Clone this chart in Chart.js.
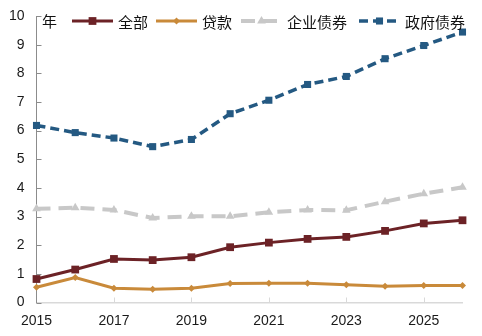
<!DOCTYPE html>
<html>
<head>
<meta charset="utf-8">
<script src="https://cdn.jsdelivr.net/npm/chart.js@4.4.0/dist/chart.umd.min.js"></script>
<style>
  html, body { margin: 0; padding: 0; background: #fff; }
  canvas { display: block; }
</style>
</head>
<body>
<canvas id="chart" width="482" height="336"></canvas>
<script>
// Data
const years = ['2015', '2016', '2017', '2018', '2019', '2020', '2021', '2022', '2023', '2024', '2025', '2026'];
const seriesNames = ['全部', '贷款', '企业债券', '政府债券'];
const totalValues = [0.82, 1.15, 1.52, 1.48, 1.58, 1.93, 2.09, 2.22, 2.29, 2.50, 2.76, 2.87];
const loanValues = [0.53, 0.87, 0.50, 0.46, 0.50, 0.66, 0.67, 0.67, 0.62, 0.57, 0.59, 0.59];
const corpBondValues = [3.27, 3.31, 3.23, 2.95, 3.01, 3.01, 3.15, 3.23, 3.22, 3.52, 3.80, 4.02];
const govBondValues = [6.18, 5.93, 5.74, 5.44, 5.69, 6.59, 7.06, 7.61, 7.89, 8.51, 8.97, 9.44];
const yUnit = '年';

// Draw legend items (line + marker + text) over the top of the plot
function drawMarker(ctx, style, x, y, r, color) {
    ctx.fillStyle = color;
    ctx.beginPath();
    if (style === 'rect') {
        const s = r * Math.SQRT1_2;
        ctx.rect(x - s, y - s, 2 * s, 2 * s);
    } else if (style === 'rectRot') {
        ctx.moveTo(x, y - r);
        ctx.lineTo(x + r, y);
        ctx.lineTo(x, y + r);
        ctx.lineTo(x - r, y);
        ctx.closePath();
    } else if (style === 'triangle') {
        ctx.moveTo(x, y - r);
        ctx.lineTo(x + r * 0.87, y + r * 0.5);
        ctx.lineTo(x - r * 0.87, y + r * 0.5);
        ctx.closePath();
    }
    ctx.fill();
}

const topLegend = {
    id: 'topLegend',
    afterDraw(chart) {
        const ctx = chart.ctx;
        const y = 21;
        const starts = [72, 156, 241, 359];
        const len = 41;
        ctx.save();
        ctx.font = '15px "Noto Sans CJK SC", sans-serif';
        ctx.textBaseline = 'middle';
        ctx.fillStyle = '#111';
        ctx.fillText(yUnit, 42, y);
        chart.data.datasets.forEach((ds, i) => {
            const x0 = starts[i];
            ctx.strokeStyle = ds.borderColor;
            ctx.lineWidth = ds.borderWidth;
            ctx.setLineDash(ds.borderDash || []);
            ctx.beginPath();
            ctx.moveTo(x0, y);
            ctx.lineTo(x0 + len, y);
            ctx.stroke();
            ctx.setLineDash([]);
            drawMarker(ctx, ds.pointStyle, x0 + len / 2, y, ds.pointRadius, ds.borderColor);
            ctx.fillStyle = '#111';
            ctx.fillText(ds.label, x0 + len + 5, y + 1);
        });
        ctx.restore();
    }
};

// Small inward tick marks on both axes
const innerTicks = {
    id: 'innerTicks',
    beforeDatasetsDraw(chart) {
        const ctx = chart.ctx;
        const xs = chart.scales.x, ys = chart.scales.y;
        const left = chart.chartArea.left, bottom = chart.chartArea.bottom;
        ctx.save();
        ctx.lineWidth = 1;
        ctx.strokeStyle = '#8C8C8C';
        ys.ticks.forEach((t, i) => {
            const py = Math.round(ys.getPixelForTick(i)) + 0.5;
            ctx.beginPath();
            ctx.moveTo(left, py);
            ctx.lineTo(left + 5, py);
            ctx.stroke();
        });
        ctx.strokeStyle = '#D9D9D9';
        xs.ticks.forEach((t, i) => {
            if (i % 2 !== 0 || i === 0) return;
            const px = Math.round(xs.getPixelForTick(i)) + 0.5;
            ctx.beginPath();
            ctx.moveTo(px, bottom);
            ctx.lineTo(px, bottom - 5);
            ctx.stroke();
        });
        ctx.restore();
    }
};

const ctx = document.getElementById('chart').getContext('2d');
const chart = new Chart(ctx, {
    type: 'line',
    data: {
        labels: years,
        datasets: [
            {
                label: seriesNames[0],
                data: totalValues,
                borderColor: '#6C2226',
                backgroundColor: '#6C2226',
                borderWidth: 3,
                pointStyle: 'rect',
                pointRadius: 5.5,
                pointBorderWidth: 0
            },
            {
                label: seriesNames[1],
                data: loanValues,
                borderColor: '#C98A3A',
                backgroundColor: '#C98A3A',
                borderWidth: 3,
                pointStyle: 'rectRot',
                pointRadius: 3.5,
                pointBorderWidth: 0
            },
            {
                label: seriesNames[2],
                data: corpBondValues,
                borderColor: '#C8C8C8',
                backgroundColor: '#C8C8C8',
                borderWidth: 4,
                borderDash: [14, 8],
                pointStyle: 'triangle',
                pointRadius: 5,
                pointBorderWidth: 0
            },
            {
                label: seriesNames[3],
                data: govBondValues,
                borderColor: '#245982',
                backgroundColor: '#245982',
                borderWidth: 3.5,
                borderDash: [9, 5],
                pointStyle: 'rect',
                pointRadius: 5,
                pointBorderWidth: 0
            }
        ]
    },
    options: {
        responsive: false,
        animation: false,
        clip: false,
        layout: { padding: { top: 16, right: 19.5, left: 0, bottom: 0 } },
        plugins: {
            legend: { display: false },
            tooltip: { enabled: false }
        },
        scales: {
            x: {
                offset: false,
                grid: { display: false, drawTicks: false },
                border: { color: '#D9D9D9', width: 1.5 },
                ticks: {
                    autoSkip: false,
                    maxRotation: 0,
                    padding: 10,
                    color: '#1a1a1a',
                    font: { family: '"Liberation Sans", Arial, sans-serif', size: 14 },
                    callback: (v, i) => (i % 2 === 0 ? years[i] : '')
                },
                afterFit: (s) => { s.height = 33.5; }
            },
            y: {
                min: 0,
                max: 10,
                // invisible tick marks push the labels left without adding top padding
                grid: { display: true, drawOnChartArea: false, drawTicks: true, tickLength: 12, color: 'rgba(0,0,0,0)' },
                border: { color: '#8C8C8C', width: 1 },
                ticks: {
                    stepSize: 1,
                    padding: 0,
                    color: '#1a1a1a',
                    font: { family: '"Liberation Sans", Arial, sans-serif', size: 14 }
                },
                afterFit: (s) => { s.width = 36.5; }
            }
        }
    },
    plugins: [topLegend, innerTicks]
});
</script>
</body>
</html>
